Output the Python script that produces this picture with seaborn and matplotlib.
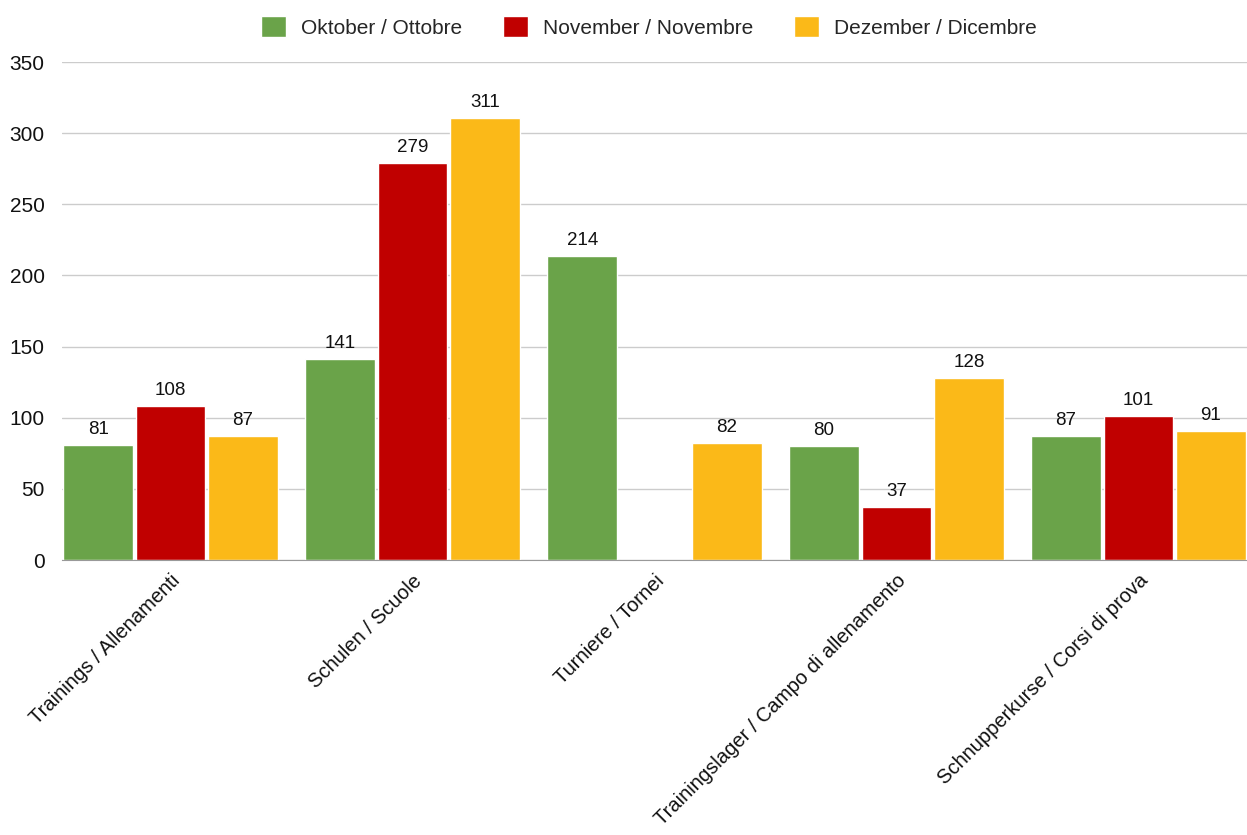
import matplotlib
matplotlib.use("Agg")
import matplotlib.pyplot as plt
import seaborn as sns
import pandas as pd

categories = [
    "Trainings / Allenamenti",
    "Schulen / Scuole",
    "Turniere / Tornei",
    "Trainingslager / Campo di allenamento",
    "Schnupperkurse / Corsi di prova",
]
months = ["Oktober / Ottobre", "November / Novembre", "Dezember / Dicembre"]
oktober = [81, 141, 214, 80, 87]
november = [108, 279, 0, 37, 101]
dezember = [87, 311, 82, 128, 91]
colors = ["#6aa349", "#c00000", "#fbb918"]

rows = []
for month, vals in zip(months, [oktober, november, dezember]):
    for cat, v in zip(categories, vals):
        rows.append({"Kategorie": cat, "Monat": month, "Wert": v})
df = pd.DataFrame(rows)

sns.set_style("white")
plt.rcParams["font.family"] = ["Liberation Sans", "DejaVu Sans"]

fig = plt.figure(figsize=(12.47, 8.35), dpi=100)
ax = fig.add_axes([0.0497, 0.3293, 0.9503, 0.5964])

sns.barplot(data=df, x="Kategorie", y="Wert", hue="Monat", order=categories,
            hue_order=months, palette=colors, width=0.897, gap=0.04,
            saturation=1, ax=ax, legend=True)

for container in ax.containers:
    labels = [f"{int(b.get_height())}" if b.get_height() > 0 else "" for b in container]
    ax.bar_label(container, labels=labels, padding=5, fontsize=13.5, color="#111111")

ax.set_ylim(0, 350)
ax.set_yticks(range(0, 351, 50))
ax.set_xlim(-0.4485, 4.4485)
ax.yaxis.grid(True, color="#cccccc", linewidth=1)
ax.set_axisbelow(True)
for side in ["top", "right", "left"]:
    ax.spines[side].set_visible(False)
ax.spines["bottom"].set_color("#999999")
ax.tick_params(axis="both", length=0, labelsize=15, colors="#111111")
ax.tick_params(axis="y", pad=12.5)
ax.tick_params(axis="x", pad=8, labelsize=14.5)
ax.set_xlabel("")
ax.set_ylabel("")
plt.setp(ax.get_xticklabels(), rotation=45, ha="right", rotation_mode="anchor")

handles, labels = ax.get_legend_handles_labels()
ax.legend(handles, labels, loc="upper center", bbox_to_anchor=(0.495, 1.13),
          ncol=3, frameon=False, fontsize=15, handlelength=1.2, handleheight=1.2,
          columnspacing=1.95, handletextpad=0.72)

fig.savefig("out.png", dpi=100)
